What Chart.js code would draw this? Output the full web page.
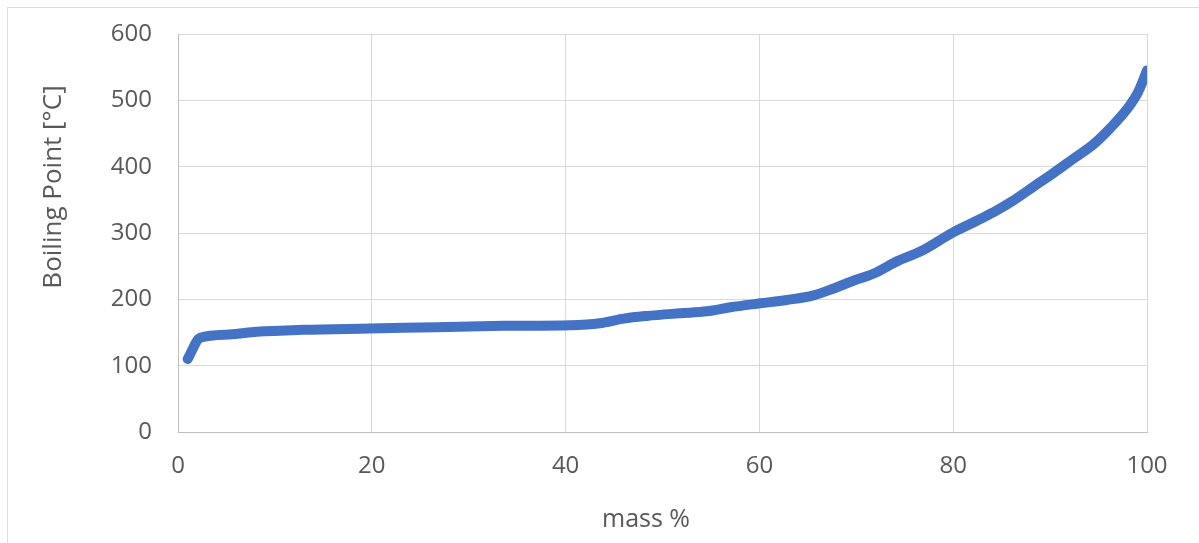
<!DOCTYPE html>
<html>
<head>
<meta charset="utf-8">
<script src="https://cdn.jsdelivr.net/npm/chart.js@4/dist/chart.umd.min.js"></script>
<style>
  html, body { margin: 0; padding: 0; background: #ffffff; overflow: hidden; }
  body { width: 1199px; height: 543px; position: relative; }
  #frame { position: absolute; left: 7px; top: 7px; width: 1300px; height: 700px; border: 1px solid #dcdcdc; box-sizing: border-box; }
  #wrap { position: absolute; left: 0; top: 0; width: 1199px; height: 543px; }
</style>
</head>
<body>
<div id="frame"></div>
<div id="wrap"><canvas id="chart" width="1199" height="543"></canvas></div>
<script>
// Distillation curve: boiling point vs. cumulative mass %
const massPct = [1, 2.3, 5.3, 8.1, 12.9, 19.8, 26.7, 33.6, 40.5, 43.5, 46, 48.4, 51.8, 54.6, 57, 60.1, 62.8, 65.6, 67.6, 69.7, 71.8, 74.3, 76.6, 80, 82.8, 84.5, 86, 88.3, 90.3, 92.4, 94.5, 96.2, 97.9, 99.1, 100];
const boilingPoint = [110, 142, 147, 151, 154, 156, 158, 160, 161, 164, 171, 175, 179, 182, 188, 194, 199, 206, 216, 228, 239, 258, 272, 301, 321, 334, 347, 370, 390, 412, 434, 458, 486, 513, 545];
const xTicks = [0, 20, 40, 60, 80, 100];
const yTicks = [0, 100, 200, 300, 400, 500, 600];

const FONT = "'Open Sans', 'Liberation Sans', sans-serif";
const TEXT = '#595959';
const GRID = '#d9d9d9';

const points = massPct.map((m, i) => ({ x: m, y: boilingPoint[i] }));

// Axis titles placed at fixed offsets from the plot area
const axisTitles = {
  id: 'axisTitles',
  afterDraw(chart) {
    const { ctx, chartArea } = chart;
    ctx.save();
    ctx.fillStyle = TEXT;
    ctx.textAlign = 'center';
    ctx.textBaseline = 'middle';
    ctx.font = `25px ${FONT}`;
    ctx.fillText('mass %', chartArea.left + 468, chartArea.bottom + 88);
    ctx.translate(chartArea.left - 124, chartArea.top + 153);
    ctx.rotate(-Math.PI / 2);
    ctx.font = `26px ${FONT}`;
    ctx.fillText('Boiling Point [°C]', 0, 0);
    ctx.restore();
  }
};

new Chart(document.getElementById('chart'), {
  type: 'scatter',
  data: {
    datasets: [{
      data: points,
      showLine: true,
      borderColor: '#4472C4',
      backgroundColor: '#4472C4',
      borderWidth: 10,
      borderCapStyle: 'round',
      borderJoinStyle: 'round',
      cubicInterpolationMode: 'monotone',
      pointRadius: 0,
      pointHoverRadius: 0
    }]
  },
  options: {
    responsive: false,
    animation: false,
    events: [],
    layout: { padding: { top: 34, right: 52, left: 0, bottom: 0 } },
    plugins: { legend: { display: false }, tooltip: { enabled: false } },
    scales: {
      x: {
        type: 'linear',
        min: 0, max: 100,
        afterFit(scale) { scale.height = 111; scale.paddingLeft = 0; scale.paddingRight = 0; },
        afterBuildTicks(scale) { scale.ticks = xTicks.map(v => ({ value: v })); },
        grid: { color: GRID, lineWidth: 1, drawTicks: false },
        border: { display: true, color: '#bfbfbf', width: 1 },
        ticks: { color: TEXT, font: { family: FONT, size: 24 }, padding: 20, maxRotation: 0 }
      },
      y: {
        type: 'linear',
        min: 0, max: 600,
        afterFit(scale) { scale.width = 178; scale.paddingTop = 0; scale.paddingBottom = 0; },
        afterBuildTicks(scale) { scale.ticks = yTicks.map(v => ({ value: v })); },
        grid: { color: GRID, lineWidth: 1, drawTicks: false },
        border: { display: true, color: '#bfbfbf', width: 1 },
        ticks: { color: TEXT, font: { family: FONT, size: 24 }, padding: 26 }
      }
    }
  },
  plugins: [axisTitles]
});
</script>
</body>
</html>
